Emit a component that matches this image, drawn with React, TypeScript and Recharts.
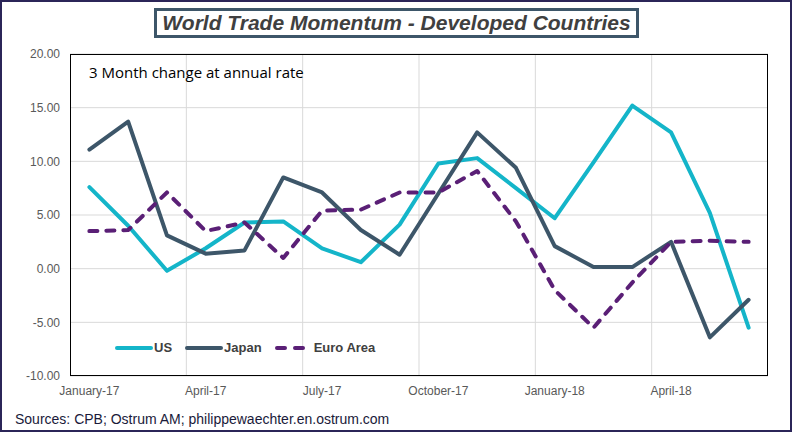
import React from 'react';
import { ComposedChart, Line, XAxis, YAxis, CartesianGrid } from 'recharts';

const months = [
  'January-17', 'February-17', 'March-17', 'April-17', 'May-17', 'June-17',
  'July-17', 'August-17', 'September-17', 'October-17', 'November-17', 'December-17',
  'January-18', 'February-18', 'March-18', 'April-18', 'May-18', 'June-18',
];

const us = [7.6, 4.0, -0.2, 1.9, 4.3, 4.4, 1.9, 0.6, 4.1, 9.8, 10.3, 7.5, 4.7, 9.9, 15.2, 12.7, 5.2, -5.5];
const japan = [11.1, 13.7, 3.1, 1.4, 1.7, 8.5, 7.1, 3.6, 1.3, 7.0, 12.7, 9.4, 2.1, 0.15, 0.15, 2.5, -6.4, -2.9];
const euroArea = [3.5, 3.6, 7.1, 3.5, 4.3, 1.0, 5.4, 5.5, 7.1, 7.1, 9.1, 4.4, -2.0, -5.5, -1.3, 2.5, 2.6, 2.5];

const yTicks = [-10, -5, 0, 5, 10, 15, 20];

const series = [
  { key: 'us', name: 'US', color: '#14B5C9', dash: undefined as string | undefined },
  { key: 'japan', name: 'Japan', color: '#3D5669', dash: undefined as string | undefined },
  { key: 'euro', name: 'Euro Area', color: '#5A1F76', dash: '8 9' },
];

const data = months.map((m, i) => ({ month: m, us: us[i], japan: japan[i], euro: euroArea[i] }));

const axisFont = { fontFamily: '"Liberation Sans", Arial, sans-serif', fontSize: 12, fill: '#595959' };

// grid lines sit on the quarter boundaries, between category bands
const quarterLines = ({ offset }: any) => {
  const bw = offset.width / months.length;
  const out: number[] = [];
  for (let i = 3; i < months.length; i += 3) out.push(offset.left + i * bw);
  return out;
};

const App: React.FC = () => {
  return (
    <div style={{ position: 'absolute', left: 0, top: 0, width: 793, height: 433, background: '#fff' }}>
      <ComposedChart
        width={793}
        height={433}
        data={data}
        margin={{ top: 54, right: 25, bottom: 27, left: 8 }}
      >
        <CartesianGrid stroke="#D9D9D9" strokeWidth={1} verticalCoordinatesGenerator={quarterLines} />
        <XAxis
          dataKey="month"
          scale="band"
          interval={2}
          axisLine={false}
          tickLine={false}
          tickSize={0}
          tickMargin={10}
          height={30}
          tick={axisFont}
        />
        <YAxis
          domain={[-10, 20]}
          ticks={yTicks}
          allowDataOverflow
          axisLine={false}
          tickLine={false}
          tickSize={0}
          tickMargin={10}
          width={62}
          tick={axisFont}
          tickFormatter={(v: number) => v.toFixed(2)}
        />
        {series.map((s) => (
          <Line
            key={s.key}
            dataKey={s.key}
            name={s.name}
            type="linear"
            stroke={s.color}
            strokeWidth={4}
            strokeDasharray={s.dash}
            strokeLinecap="round"
            strokeLinejoin="round"
            dot={false}
            activeDot={false}
            isAnimationActive={false}
          />
        ))}
      </ComposedChart>

      {/* plot frame */}
      <div style={{ position: 'absolute', left: 70, top: 54, width: 698, height: 322, border: '1px solid #000', boxSizing: 'border-box', pointerEvents: 'none' }} />

      {/* title */}
      <div
        style={{
          position: 'absolute', left: 154, top: 8, width: 485, height: 30, boxSizing: 'border-box',
          border: '3px solid #3D5669', display: 'flex', alignItems: 'center', justifyContent: 'center',
          fontFamily: '"Liberation Sans", Arial, sans-serif', fontWeight: 'bold', fontStyle: 'italic',
          fontSize: 21, color: '#404040', background: '#fff',
        }}
      >
        World Trade Momentum - Developed Countries
      </div>

      <div style={{ position: 'absolute', left: 89, top: 62, fontFamily: '"Open Sans", sans-serif', fontSize: 15, color: '#000' }}>
        3 Month change at annual rate
      </div>

      {/* legend */}
      <div style={{ position: 'absolute', left: 114, top: 340, display: 'flex', alignItems: 'center', fontFamily: '"Liberation Sans", Arial, sans-serif', fontWeight: 'bold', fontSize: 13, color: '#404040' }}>
        {series.map((s) => (
          <div key={s.key} style={{ display: 'flex', alignItems: 'center', marginRight: 12 }}>
            <svg width={40} height={8}>
              <line x1={3} y1={4} x2={37} y2={4} stroke={s.color} strokeWidth={4} strokeLinecap="round" strokeDasharray={s.dash ? '8 10' : undefined} />
            </svg>
            <span>{s.name}</span>
          </div>
        ))}
      </div>

      <div style={{ position: 'absolute', left: 15, top: 411, fontFamily: '"Liberation Sans", Arial, sans-serif', fontSize: 14, color: '#1A1A3A' }}>
        Sources: CPB; Ostrum AM; philippewaechter.en.ostrum.com
      </div>

      {/* outer frame */}
      <div style={{ position: 'absolute', left: 0, top: 0, width: 792, height: 432, border: '2px solid #2B2558', boxSizing: 'border-box', pointerEvents: 'none' }} />
    </div>
  );
};

export default App;
